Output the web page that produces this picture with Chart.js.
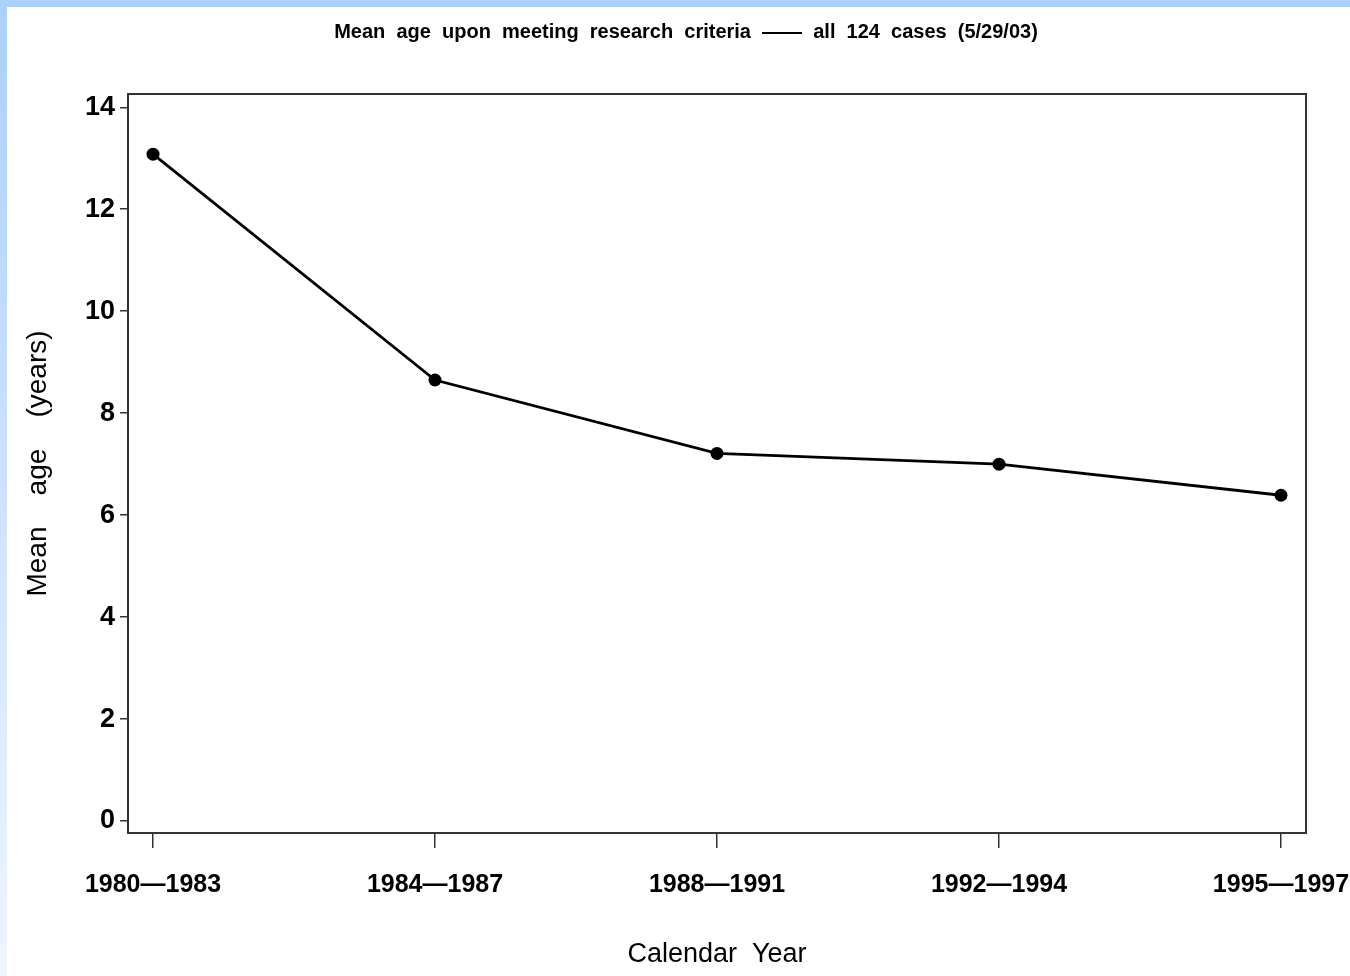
<!DOCTYPE html>
<html>
<head>
<meta charset="utf-8">
<script src="https://cdn.jsdelivr.net/npm/chart.js@4.4.0/dist/chart.umd.min.js"></script>
<style>
  html, body { margin: 0; padding: 0; background: #fff; }
  #wrap { position: relative; width: 1350px; height: 976px; overflow: hidden; }
  .band-top { position: absolute; left: 0; top: 0; width: 1350px; height: 7px; background: #abd0fb; }
  .band-left { position: absolute; left: 0; top: 0; width: 7px; height: 976px; background: linear-gradient(#abd0fb, #eef5fe); }
  canvas { position: absolute; left: 0; top: 0; }
</style>
</head>
<body>
<div id="wrap">
  <div class="band-left"></div>
  <div class="band-top"></div>
  <canvas id="chart" width="1350" height="976"></canvas>
</div>
<script>
const periods = ['1980—1983', '1984—1987', '1988—1991', '1992—1994', '1995—1997'];
const meanAge = [13.08, 8.65, 7.21, 7.0, 6.39];
const yTicks = [0, 2, 4, 6, 8, 10, 12, 14];

const titleText = 'Mean  age  upon  meeting  research  criteria  ——  all  124  cases  (5/29/03)';
const fontFamily = "'Liberation Sans', Arial, sans-serif";

// title sits a bit left of the plot centre in the original
const topTitle = {
  id: 'topTitle',
  afterDraw(chart) {
    const { ctx, chartArea } = chart;
    ctx.save();
    ctx.font = 'bold 20px ' + fontFamily;
    ctx.fillStyle = '#000';
    ctx.textAlign = 'center';
    ctx.textBaseline = 'middle';
    ctx.fillText(titleText, (chartArea.left + chartArea.right) / 2 - 31, 32);
    ctx.restore();
  }
};

const frame = {
  id: 'frame',
  beforeDatasetsDraw(chart) {
    const { ctx, chartArea: a } = chart;
    ctx.save();
    ctx.strokeStyle = '#333';
    ctx.lineWidth = 2;
    ctx.strokeRect(a.left, a.top, a.right - a.left, a.bottom - a.top);
    ctx.restore();
  }
};

const ctx = document.getElementById('chart').getContext('2d');
new Chart(ctx, {
  type: 'line',
  data: {
    datasets: [{
      data: meanAge.map((v, i) => ({ x: i, y: v })),
      borderColor: '#000',
      borderWidth: 2.8,
      pointRadius: 6.5,
      pointBackgroundColor: '#000',
      pointBorderWidth: 0,
      tension: 0,
    }],
  },
  options: {
    responsive: false,
    animation: false,
    devicePixelRatio: 1,
    layout: { padding: { top: 94, right: 44, left: 0, bottom: 0 } },
    scales: {
      x: {
        type: 'linear',
        min: -0.0887,
        max: 4.0887,
        afterBuildTicks: (scale) => { scale.ticks = periods.map((p, i) => ({ value: i })); },
        afterFit: (scale) => { scale.height = 143; scale.paddingLeft = 0; scale.paddingRight = 0; },
        ticks: {
          callback: (v) => periods[v],
          font: { family: fontFamily, size: 25, weight: 'bold' },
          color: '#000',
          padding: 22,
          maxRotation: 0,
          autoSkip: false,
        },
        grid: { drawOnChartArea: false, tickLength: 15, color: '#333', lineWidth: 1.5 },
        border: { display: false },
        title: {
          display: true,
          text: 'Calendar  Year',
          font: { family: fontFamily, size: 27 },
          color: '#000',
          padding: { top: 0, bottom: 5 },
        },
      },
      y: {
        min: -0.235,
        max: 14.26,
        afterBuildTicks: (scale) => { scale.ticks = yTicks.map(v => ({ value: v })); },
        afterFit: (scale) => { scale.width = 128; scale.paddingTop = 0; scale.paddingBottom = 0; },
        ticks: {
          font: { family: fontFamily, size: 27, weight: 'bold' },
          color: '#000',
          padding: 5,
        },
        grid: { drawOnChartArea: false, tickLength: 8, color: '#333', lineWidth: 1.5 },
        border: { display: false },
        title: {
          display: true,
          text: 'Mean    age    (years)',
          font: { family: fontFamily, size: 28 },
          color: '#000',
          padding: { top: 21, bottom: 0 },
        },
      },
    },
    plugins: {
      legend: { display: false },
      tooltip: { enabled: false },
    },
  },
  plugins: [frame, topTitle],
});
</script>
</body>
</html>
